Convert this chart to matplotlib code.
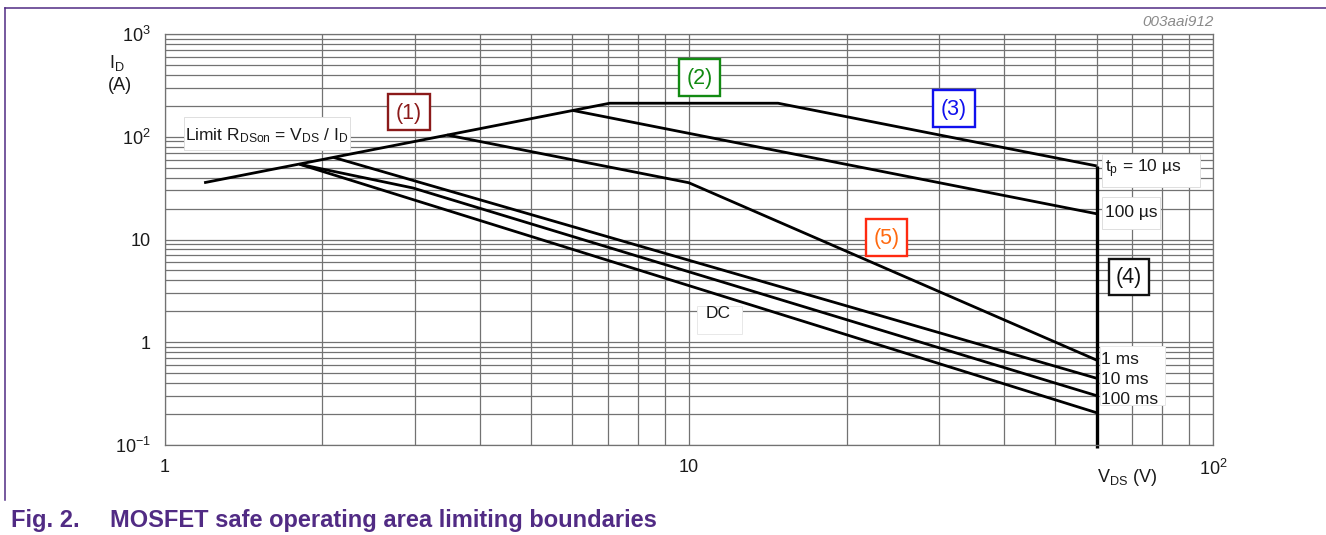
import numpy as np
import matplotlib
matplotlib.use("Agg")
import matplotlib.pyplot as plt
from matplotlib.lines import Line2D
from matplotlib.patches import Rectangle
from matplotlib.ticker import LogLocator, NullFormatter

plt.rcParams['font.family'] = ['Liberation Sans', 'DejaVu Sans']
plt.rcParams['mathtext.fontset'] = 'custom'
plt.rcParams['mathtext.rm'] = 'Liberation Sans'
plt.rcParams['mathtext.it'] = 'Liberation Sans:italic'

# Outer limit: R_DSon line, I_DM plateau, constant-power (10 us) segment
vds_limit = [1.19, 7.07, 14.8, 60.0]
id_limit = [35.7, 212.0, 212.0, 52.0]

# Pulse-width curves (V_DS in V, I_D in A)
vds_100us = [6.02, 60.0]
id_100us = [180.0, 17.8]
vds_1ms = [3.46, 10.0, 60.0]
id_1ms = [104.0, 35.7, 0.67]
vds_10ms = [2.10, 60.0]
id_10ms = [63.0, 0.446]
vds_100ms = [1.81, 2.98, 60.0]
id_100ms = [54.0, 31.7, 0.302]
vds_dc = [1.81, 60.0]
id_dc = [54.0, 0.206]

# Breakdown voltage limit
vds_max = 60.0
id_max_top = 52.0
id_max_bottom = 0.093

x_ticks = [1, 10, 100]
x_ticklabels = ['1', '10', r'$\mathregular{10^2}$']
y_ticks = [0.1, 1, 10, 100, 1000]
y_ticklabels = [r'$\mathregular{10^{-1}}$', '1', '10',
                r'$\mathregular{10^2}$', r'$\mathregular{10^3}$']

W, H = 1326, 535
fig = plt.figure(figsize=(W / 100, H / 100), dpi=100)
fig.patch.set_facecolor('white')

ax = fig.add_axes([164.5 / W, 1 - 445 / H, (1213 - 164.5) / W, (445 - 34) / H])
ax.set_xscale('log')
ax.set_yscale('log')
ax.set_xlim(1, 100)
ax.set_ylim(0.1, 1000)

gridc = '#727272'
ax.xaxis.set_minor_locator(LogLocator(base=10, subs=np.arange(2, 10), numticks=100))
ax.yaxis.set_minor_locator(LogLocator(base=10, subs=np.arange(2, 10), numticks=100))
ax.xaxis.set_minor_formatter(NullFormatter())
ax.yaxis.set_minor_formatter(NullFormatter())
ax.grid(True, which='both', color=gridc, lw=0.9)
ax.set_axisbelow(True)
for s in ax.spines.values():
    s.set_color(gridc)
    s.set_linewidth(0.9)
ax.tick_params(which='both', length=0, labelsize=13, colors='#1a1a1a')
ax.tick_params(axis='x', pad=10)
ax.tick_params(axis='y', pad=10)
ax.set_xticks(x_ticks)
ax.set_xticklabels(x_ticklabels)
ax.set_yticks(y_ticks)
ax.set_yticklabels(y_ticklabels)

lw = 2.0
kw = dict(color='black', lw=lw, solid_joinstyle='round', solid_capstyle='butt')
ax.plot(vds_limit, id_limit, **kw)
ax.plot(vds_100us, id_100us, **kw)
ax.plot(vds_1ms, id_1ms, **kw)
ax.plot(vds_10ms, id_10ms, **kw)
ax.plot(vds_100ms, id_100ms, **kw)
ax.plot(vds_dc, id_dc, **kw)
ax.plot([vds_max, vds_max], [id_max_top, id_max_bottom], color='black',
        lw=2.4, clip_on=False, solid_capstyle='butt')

def px(x, y):
    return (x / W, 1 - y / H)

def box(x0, y0, x1, y1, ec='#dedede', lw=0.7):
    fig.add_artist(Rectangle(px(x0, y1), (x1 - x0) / W, (y1 - y0) / H,
                             fc='white', ec=ec, lw=lw))

txt = '#1a1a1a'
fs = 12.5

box(184, 117, 350, 150)
fig.text(*px(267, 136), r'Limit $\mathregular{R_{DSon}}$ = $\mathregular{V_{DS}}$ / $\mathregular{I_D}$',
         ha='center', va='center', fontsize=fs, color=txt)
box(1102, 154, 1200, 187)
fig.text(*px(1105, 169), r'$\mathregular{t_p}$ = 10 µs', ha='left', va='center', fontsize=fs, color=txt)
box(1102, 197, 1160, 229)
fig.text(*px(1105, 213), '100 µs', ha='left', va='center', fontsize=fs, color=txt)
box(697, 306, 742, 334, ec='#e8e8e8')
fig.text(*px(718, 314), 'DC', ha='center', va='center', fontsize=fs, color=txt)
box(1100, 346, 1165, 405, ec='#e8e8e8')
fig.text(*px(1101, 359), '1 ms', ha='left', va='center', fontsize=fs, color=txt)
fig.text(*px(1101, 380), '10 ms', ha='left', va='center', fontsize=fs, color=txt)
fig.text(*px(1101, 400), '100 ms', ha='left', va='center', fontsize=fs, color=txt)

# numbered region markers
def region(x0, y0, x1, y1, s, tc, ec):
    box(x0, y0, x1, y1, ec=ec, lw=1.7)
    fig.text(*px((x0 + x1) / 2, (y0 + y1) / 2 + 1), s, ha='center', va='center',
             fontsize=15.5, color=tc)

region(388, 94, 430, 130, '(1)', '#8b1a1a', '#8b1a1a')
region(679, 59, 720, 96, '(2)', '#128a12', '#128a12')
region(933, 90, 975, 127, '(3)', '#1010ee', '#1010ee')
region(1109, 259, 1149, 295, '(4)', '#111111', '#111111')
region(866, 219, 907, 256, '(5)', '#ff6a10', '#ff2a10')

# axis titles
fig.text(*px(117, 63), r'$\mathregular{I_D}$', ha='center', va='center', fontsize=fs + 0.5, color=txt)
fig.text(*px(120, 86), '(A)', ha='center', va='center', fontsize=fs + 0.5, color=txt)
fig.text(*px(1127, 478), r'$\mathregular{V_{DS}}$ (V)', ha='center', va='center', fontsize=fs + 0.5, color=txt)
fig.text(*px(1214, 22), '003aai912', ha='right', va='center', fontsize=11,
         color='#8a8a8a', style='italic')

# frame and caption
purple = '#512b84'
fig.add_artist(Line2D([5 / W, 1], [1 - 8 / H] * 2, color=purple, lw=1.1))
fig.add_artist(Line2D([5 / W, 5 / W], [1 - 8 / H, 1 - 500 / H], color=purple, lw=1.1))
fig.text(*px(11, 520), 'Fig. 2.', ha='left', va='center', fontsize=17,
         fontweight='bold', color=purple)
fig.text(*px(110, 520), 'MOSFET safe operating area limiting boundaries', ha='left',
         va='center', fontsize=17, fontweight='bold', color=purple)

fig.savefig('out.png', dpi=100)
